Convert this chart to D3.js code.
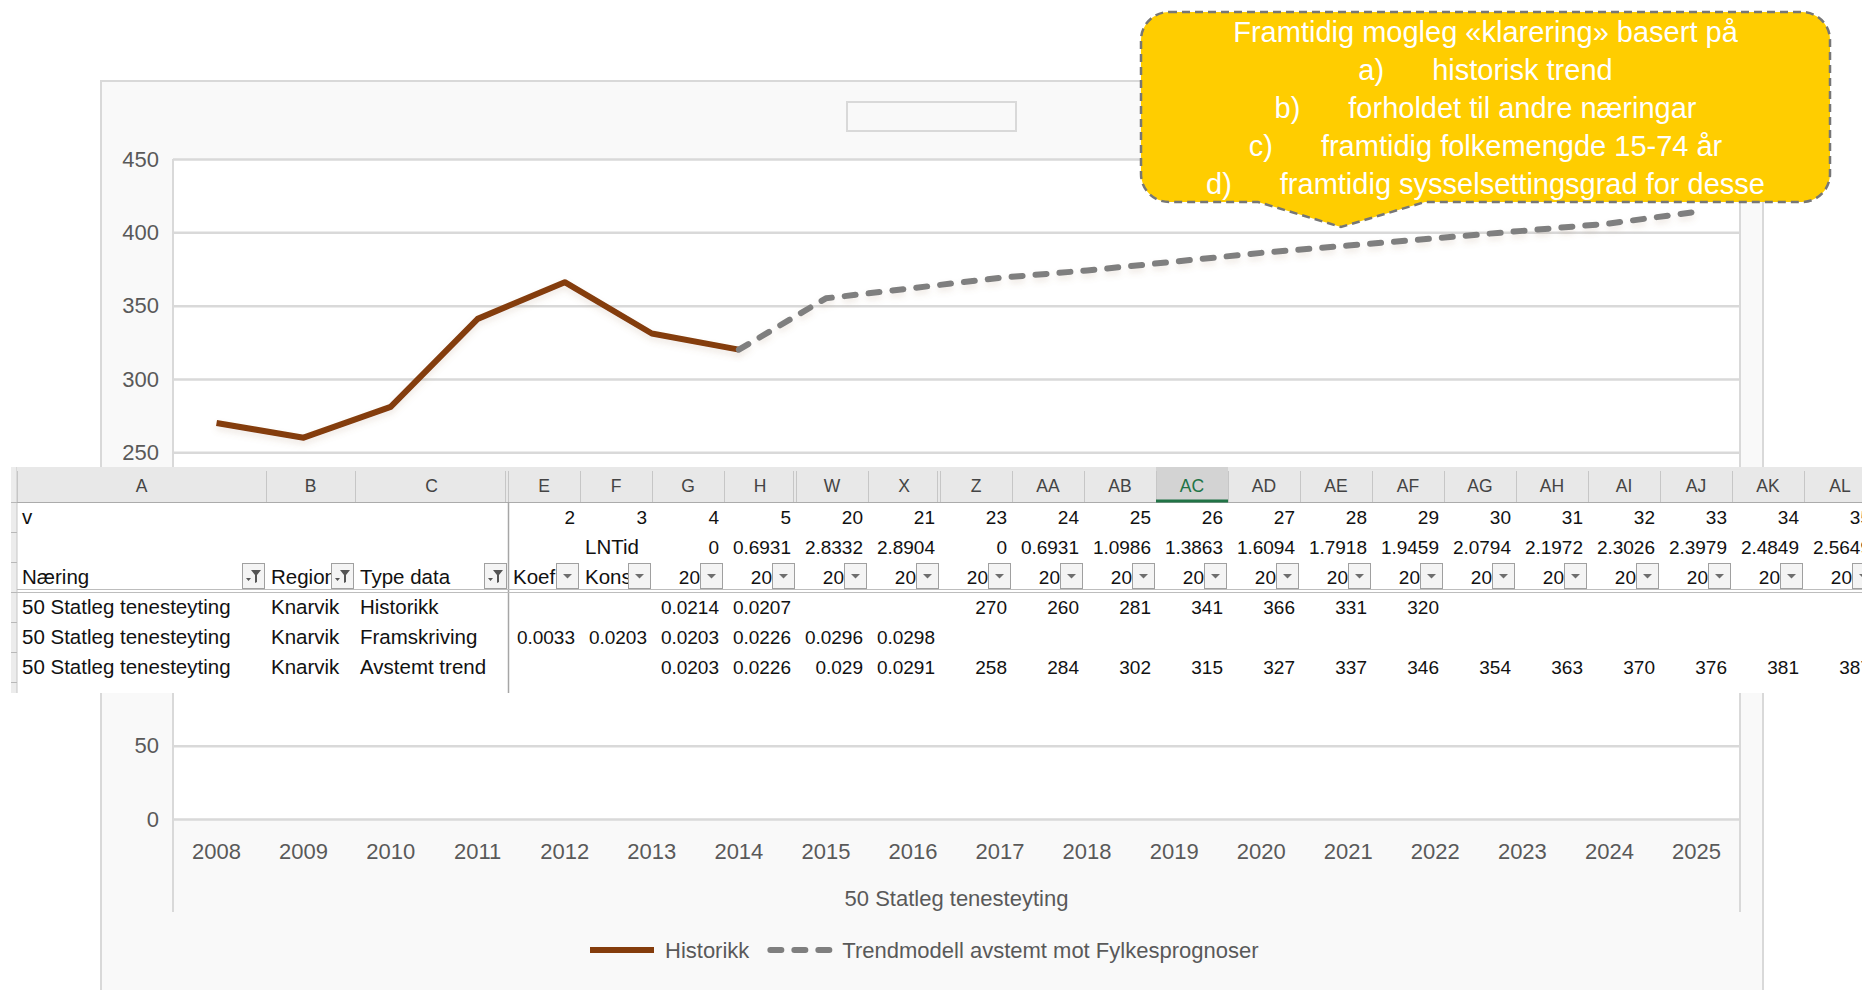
<!DOCTYPE html>
<html>
<head>
<meta charset="utf-8">
<script src="https://cdn.jsdelivr.net/npm/d3@7"></script>
<style>
  html, body { margin: 0; padding: 0; background: #fff; }
  svg { display: block; font-family: "Liberation Sans", Arial, sans-serif; }
</style>
</head>
<body>
<div id="chart"></div>
<script>
// chart data
var years = ['2008', '2009', '2010', '2011', '2012', '2013', '2014', '2015', '2016',
  '2017', '2018', '2019', '2020', '2021', '2022', '2023', '2024', '2025'];
var histYears = ['2008', '2009', '2010', '2011', '2012', '2013', '2014'];
var historikk = [270, 260, 281, 341, 366, 331, 320];
var trendYears = ['2014', '2015', '2016', '2017', '2018', '2019', '2020', '2021',
  '2022', '2023', '2024', '2025'];
var trend = [320, 355, 362, 369, 374, 380, 386, 391, 396, 401, 406, 414];
var yTicks = [0, 50, 100, 150, 200, 250, 300, 350, 400, 450];
var xTitle = '50 Statleg tenesteyting';
var legendLabels = ['Historikk', 'Trendmodell avstemt mot Fylkesprognoser'];

// callout text
var calloutTitle = 'Framtidig mogleg «klarering» basert på';
var calloutMarks = ['a)', 'b)', 'c)', 'd)'];
var calloutItems = ['historisk trend', 'forholdet til andre næringar',
  'framtidig folkemengde 15-74 år', 'framtidig sysselsettingsgrad for desse'];

// spreadsheet data
var sheetCols = ['A', 'B', 'C', 'E', 'F', 'G', 'H', 'W', 'X', 'Z', 'AA', 'AB', 'AC',
  'AD', 'AE', 'AF', 'AG', 'AH', 'AI', 'AJ', 'AK', 'AL'];
var rowV = ['v', '', '', '2', '3', '4', '5', '20', '21', '23', '24', '25', '26', '27',
  '28', '29', '30', '31', '32', '33', '34', '35'];
var rowLn = ['', '', '', '', 'LNTid', '0', '0.6931', '2.8332', '2.8904', '0', '0.6931',
  '1.0986', '1.3863', '1.6094', '1.7918', '1.9459', '2.0794', '2.1972', '2.3026',
  '2.3979', '2.4849', '2.5649'];
var rowHead = ['Næring', 'Region', 'Type data', 'Koef', 'Konst', '20', '20', '20', '20',
  '20', '20', '20', '20', '20', '20', '20', '20', '20', '20', '20', '20', '20'];
var rowHist = ['50 Statleg tenesteyting', 'Knarvik', 'Historikk', '', '', '0.0214',
  '0.0207', '', '', '270', '260', '281', '341', '366', '331', '320', '', '', '', '', '', ''];
var rowFram = ['50 Statleg tenesteyting', 'Knarvik', 'Framskriving', '0.0033', '0.0203',
  '0.0203', '0.0226', '0.0296', '0.0298', '', '', '', '', '', '', '', '', '', '', '', '', ''];
var rowAvst = ['50 Statleg tenesteyting', 'Knarvik', 'Avstemt trend', '', '', '0.0203',
  '0.0226', '0.029', '0.0291', '258', '284', '302', '315', '327', '337', '346', '354',
  '363', '370', '376', '381', '387'];
var filteredCols = ['A', 'B', 'C'];
var activeCol = 'AC';

var width = 1862;
var height = 990;
var textGray = '#595959';
var gridGray = '#d9d9d9';

// where the pasted sheet sits over the chart
var sheetTop = 467;
var sheetBottom = 693;

var svg = d3.select('#chart')
  .append('svg')
  .attr('width', width)
  .attr('height', height);

var defs = svg.append('defs');
var soft = defs.append('filter')
  .attr('id', 'soft')
  .attr('x', '-5%').attr('y', '-30%')
  .attr('width', '110%').attr('height', '160%');
soft.append('feDropShadow')
  .attr('dx', 0).attr('dy', 4)
  .attr('stdDeviation', 3)
  .attr('flood-color', '#a0785a')
  .attr('flood-opacity', 0.16);

// chart frame
svg.append('rect')
  .attr('x', 101).attr('y', 81)
  .attr('width', 1662).attr('height', 1000)
  .attr('fill', '#f9f9f9')
  .attr('stroke', gridGray)
  .attr('stroke-width', 2);

// empty title box
svg.append('rect')
  .attr('x', 847).attr('y', 102)
  .attr('width', 169).attr('height', 29)
  .attr('fill', 'none')
  .attr('stroke', gridGray)
  .attr('stroke-width', 2);

var plot = { left: 173, right: 1740, top: 159, bottom: 819 };

var x = d3.scaleBand().domain(years).range([plot.left, plot.right]);
var y = d3.scaleLinear().domain([0, 450]).range([plot.bottom, plot.top]);

svg.append('rect')
  .attr('x', plot.left).attr('y', plot.top)
  .attr('width', plot.right - plot.left)
  .attr('height', plot.bottom - plot.top)
  .attr('fill', '#fff');

svg.selectAll('.plot-edge')
  .data([plot.left, plot.right])
  .enter().append('line')
  .attr('class', 'plot-edge')
  .attr('x1', function(d) { return d; })
  .attr('x2', function(d) { return d; })
  .attr('y1', plot.top)
  .attr('y2', 912)
  .attr('stroke', gridGray)
  .attr('stroke-width', 2);

// labels that end up under the sheet are left blank
function underSheet(v) {
  return y(v) > sheetTop - 8 && y(v) < sheetBottom + 8;
}

var yAxis = svg.append('g')
  .attr('transform', 'translate(' + plot.left + ',0)')
  .call(d3.axisLeft(y)
    .tickValues(yTicks)
    .tickSize(-(plot.right - plot.left))
    .tickPadding(14)
    .tickFormat(function(v) { return underSheet(v) ? '' : v; }));
yAxis.attr('font-family', null).attr('font-size', null);
yAxis.select('.domain').remove();
yAxis.selectAll('line')
  .attr('stroke', gridGray)
  .attr('stroke-width', 2.5);
yAxis.selectAll('text')
  .attr('fill', textGray)
  .style('font-size', '22px');

var xAxis = svg.append('g')
  .attr('transform', 'translate(0,' + plot.bottom + ')')
  .call(d3.axisBottom(x).tickSize(0).tickPadding(24));
xAxis.attr('font-family', null).attr('font-size', null);
xAxis.select('.domain').remove();
xAxis.selectAll('text')
  .attr('fill', textGray)
  .style('font-size', '22px');

svg.append('text')
  .attr('x', (plot.left + plot.right) / 2)
  .attr('y', 906)
  .attr('text-anchor', 'middle')
  .attr('fill', textGray)
  .style('font-size', '22px')
  .text(xTitle);

// series
var line = d3.line()
  .x(function(d) { return x(d.year) + x.bandwidth() / 2; })
  .y(function(d) { return y(d.value); });

var histData = historikk.map(function(v, i) { return { year: histYears[i], value: v }; });
var trendData = trend.map(function(v, i) { return { year: trendYears[i], value: v }; });

svg.append('path')
  .datum(histData)
  .attr('d', line)
  .attr('fill', 'none')
  .attr('stroke', '#843c0c')
  .attr('stroke-width', 6)
  .attr('stroke-linejoin', 'round')
  .attr('filter', 'url(#soft)');

svg.append('path')
  .datum(trendData)
  .attr('d', line)
  .attr('fill', 'none')
  .attr('stroke', '#7f7f7f')
  .attr('stroke-width', 6)
  .attr('stroke-dasharray', '11,13')
  .attr('stroke-linecap', 'round')
  .attr('stroke-linejoin', 'round')
  .attr('filter', 'url(#soft)');

// legend
var legendStyles = [
  { color: '#843c0c', dash: null, cap: 'butt', len: 64 },
  { color: '#7f7f7f', dash: '11,13', cap: 'round', len: 60 }
];
var lx = 590;
var ly = 950;
legendLabels.forEach(function(label, i) {
  var st = legendStyles[i];
  var x0 = st.cap === 'round' ? lx + 3 : lx;
  svg.append('line')
    .attr('x1', x0).attr('x2', x0 + st.len)
    .attr('y1', ly).attr('y2', ly)
    .attr('stroke', st.color)
    .attr('stroke-width', 6)
    .attr('stroke-linecap', st.cap)
    .attr('stroke-dasharray', st.dash);
  var t = svg.append('text')
    .attr('x', lx + 75)
    .attr('y', ly + 8)
    .attr('fill', textGray)
    .style('font-size', '22px')
    .text(label);
  lx = lx + 75 + t.node().getComputedTextLength() + 18;
});

// spreadsheet overlay
var colWidths = sheetCols.map(function(c, i) { return [249, 89, 153][i] || 72; });
var colX = [];
var acc = 17;
colWidths.forEach(function(w) { colX.push(acc); acc += w; });
var headH = 35;
var rowH = 30;
var hiddenBefore = ['E', 'W', 'Z'];

var sheet = svg.append('g').style('font-size', '19px');

sheet.append('rect')
  .attr('x', 11).attr('y', sheetTop)
  .attr('width', width - 11).attr('height', sheetBottom - sheetTop)
  .attr('fill', '#fff');

// left row-header strip
sheet.append('rect')
  .attr('x', 11).attr('y', sheetTop)
  .attr('width', 6).attr('height', sheetBottom - sheetTop)
  .attr('fill', '#ececec');
sheet.append('line')
  .attr('x1', 17).attr('x2', 17)
  .attr('y1', sheetTop).attr('y2', sheetBottom)
  .attr('stroke', '#c6c6c6');
d3.range(7).forEach(function(i) {
  sheet.append('line')
    .attr('x1', 11).attr('x2', 17)
    .attr('y1', sheetTop + headH + i * rowH + 0.5)
    .attr('y2', sheetTop + headH + i * rowH + 0.5)
    .attr('stroke', '#b8b8b8');
});

// column header row
sheet.append('rect')
  .attr('x', 17).attr('y', sheetTop)
  .attr('width', width - 17).attr('height', headH)
  .attr('fill', '#e8e8e8');

var acIdx = sheetCols.indexOf(activeCol);
sheet.append('rect')
  .attr('x', colX[acIdx]).attr('y', sheetTop)
  .attr('width', colWidths[acIdx]).attr('height', headH)
  .attr('fill', '#d3d3d3');

sheet.selectAll('.colsep')
  .data(sheetCols)
  .enter().append('line')
  .attr('x1', function(d, i) { return colX[i] + 0.5; })
  .attr('x2', function(d, i) { return colX[i] + 0.5; })
  .attr('y1', sheetTop + 4)
  .attr('y2', sheetTop + headH)
  .attr('stroke', '#c6c6c6');

sheet.selectAll('.colsep2')
  .data(hiddenBefore)
  .enter().append('line')
  .attr('x1', function(d) { return colX[sheetCols.indexOf(d)] - 2.5; })
  .attr('x2', function(d) { return colX[sheetCols.indexOf(d)] - 2.5; })
  .attr('y1', sheetTop + 4)
  .attr('y2', sheetTop + headH)
  .attr('stroke', '#c6c6c6');

sheet.append('line')
  .attr('x1', 17).attr('x2', width)
  .attr('y1', sheetTop + headH + 0.5).attr('y2', sheetTop + headH + 0.5)
  .attr('stroke', '#ababab');

sheet.append('line')
  .attr('x1', colX[acIdx]).attr('x2', colX[acIdx] + colWidths[acIdx])
  .attr('y1', sheetTop + headH - 1).attr('y2', sheetTop + headH - 1)
  .attr('stroke', '#217346')
  .attr('stroke-width', 3);

sheet.selectAll('.colname')
  .data(sheetCols)
  .enter().append('text')
  .attr('x', function(d, i) { return colX[i] + colWidths[i] / 2; })
  .attr('y', sheetTop + 25)
  .attr('text-anchor', 'middle')
  .attr('fill', function(d) { return d === activeCol ? '#217346' : '#444'; })
  .style('font-size', '17.5px')
  .text(function(d) { return d; });

// freeze panes
var freezeX = colX[sheetCols.indexOf('E')];
sheet.append('line')
  .attr('x1', freezeX + 0.5).attr('x2', freezeX + 0.5)
  .attr('y1', sheetTop + headH).attr('y2', sheetBottom)
  .attr('stroke', '#a6a6a6')
  .attr('stroke-width', 1.5);
[589.5, 592.5].forEach(function(yy) {
  sheet.append('line')
    .attr('x1', 17).attr('x2', width)
    .attr('y1', yy).attr('y2', yy)
    .attr('stroke', '#bdbdbd');
});

// cells
var rows = [rowV, rowLn, rowHead, rowHist, rowFram, rowAvst];
function isNum(s) { return s !== '' && !isNaN(+s); }

rows.forEach(function(row, r) {
  var base = sheetTop + headH + r * rowH + 22;
  sheet.selectAll('.cell' + r)
    .data(row)
    .enter().append('text')
    .attr('x', function(d, i) {
      if (!isNum(d)) return colX[i] + 5;
      return colX[i] + colWidths[i] - (r === 2 ? 24 : 5);
    })
    .attr('y', base)
    .attr('text-anchor', function(d) { return isNum(d) ? 'end' : 'start'; })
    .attr('fill', '#111')
    .style('font-size', function(d) { return isNum(d) ? '19px' : '20.5px'; })
    .text(function(d) { return d; });
});

// filter buttons on the header row of the table
var btnTop = sheetTop + headH + 2 * rowH + 1;
var btns = sheet.selectAll('.btn')
  .data(sheetCols)
  .enter().append('g')
  .attr('transform', function(d, i) {
    return 'translate(' + (colX[i] + colWidths[i] - 24) + ',' + btnTop + ')';
  });
btns.append('rect')
  .attr('x', 0.5).attr('y', 0.5)
  .attr('width', 22).attr('height', 25)
  .attr('fill', '#f4f4f4')
  .attr('stroke', '#a0a0a0');
btns.filter(function(d) { return filteredCols.indexOf(d) < 0; })
  .append('path')
  .attr('d', 'M7,11 L16,11 L11.5,15.5 Z')
  .attr('fill', '#6e6e6e');
btns.filter(function(d) { return filteredCols.indexOf(d) >= 0; })
  .append('path')
  .attr('d', 'M9,7 L19,7 L15,12 L15,19 L13,20 L13,12 Z M4,15 L9,15 L6.5,18 Z')
  .attr('fill', '#555');

// callout
var cx0 = 1141, cx1 = 1830, cy0 = 12, cy1 = 202, cr = 28;
var tip = { x: 1341, y: 227, l: 1258, r: 1425 };
var bubble = [
  'M', cx0 + cr, cy0,
  'H', cx1 - cr,
  'A', cr, cr, 0, 0, 1, cx1, cy0 + cr,
  'V', cy1 - cr,
  'A', cr, cr, 0, 0, 1, cx1 - cr, cy1,
  'H', tip.r,
  'L', tip.x, tip.y,
  'L', tip.l, cy1,
  'H', cx0 + cr,
  'A', cr, cr, 0, 0, 1, cx0, cy1 - cr,
  'V', cy0 + cr,
  'A', cr, cr, 0, 0, 1, cx0 + cr, cy0,
  'Z'
].join(' ');

svg.append('path')
  .attr('d', bubble)
  .attr('fill', '#ffcd00')
  .attr('stroke', '#767676')
  .attr('stroke-width', 2.5)
  .attr('stroke-dasharray', '8,5');

var callout = svg.append('g')
  .attr('fill', '#fff')
  .attr('text-anchor', 'middle')
  .style('font-size', '29px');
var ccx = (cx0 + cx1) / 2;
callout.append('text')
  .attr('x', ccx).attr('y', 42)
  .text(calloutTitle);
calloutItems.forEach(function(item, i) {
  var t = callout.append('text')
    .attr('x', ccx)
    .attr('y', 80 + i * 38);
  t.append('tspan').text(calloutMarks[i]);
  t.append('tspan').attr('dx', 48).text(item);
});
</script>
</body>
</html>
